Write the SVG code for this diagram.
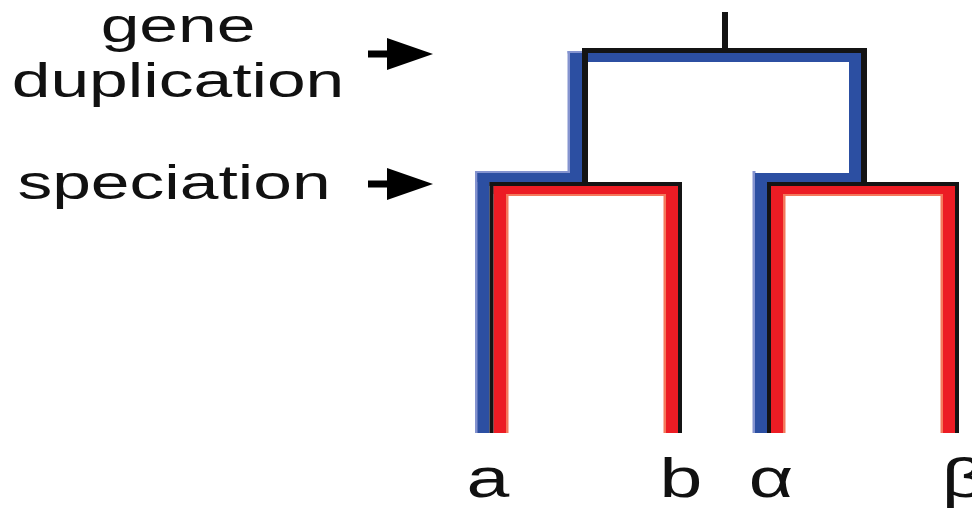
<svg xmlns="http://www.w3.org/2000/svg" width="972" height="508" viewBox="0 0 972 508">
  <style>
    .lbl { font-family: "Liberation Sans", Arial, sans-serif; fill: #111; text-anchor: middle; }
    .side { font-size: 49px; }
    .leaf { font-size: 55px; }
    .blue { fill: #2c4fa2; }
    .blue-edge { fill: #8493cf; }
    .red { fill: #ec1c24; }
    .red-edge { fill: #f4795c; }
    .blk { fill: #141414; }
    .arrow { fill: #000; }
  </style>
  <rect width="972" height="508" fill="#ffffff"/>

  <g id="event-labels">
    <g id="label-gene-duplication">
      <text class="lbl side" transform="translate(178,42) scale(1.42,1)">gene</text>
      <text class="lbl side" transform="translate(178,97) scale(1.42,1)">duplication</text>
    </g>
    <g id="label-speciation">
      <text class="lbl side" transform="translate(174,199) scale(1.42,1)">speciation</text>
    </g>
  </g>

  <g id="connectors">
    <g id="arrow-duplication">
      <rect class="arrow" x="368" y="50.5" width="22" height="7"/>
      <polygon class="arrow" points="387,38 433,54 387,70"/>
    </g>
    <g id="arrow-speciation">
      <rect class="arrow" x="368" y="180.5" width="22" height="7"/>
      <polygon class="arrow" points="387,168 433,184 387,200"/>
    </g>

    <g id="gene-tree-blue">
      <rect class="blue-edge" x="475" y="171" width="3" height="262"/>
      <rect class="blue-edge" x="475" y="171" width="97" height="2.5"/>
      <rect class="blue-edge" x="567.5" y="51" width="3" height="122"/>
      <rect class="blue-edge" x="567.5" y="51" width="15" height="2.5"/>
      <rect class="blue-edge" x="752.5" y="171" width="3" height="262"/>
      <rect class="blue" x="477.5" y="173" width="12" height="260"/>
      <rect class="blue" x="477.5" y="173" width="104.5" height="9"/>
      <rect class="blue" x="570" y="53" width="12" height="129"/>
      <rect class="blue" x="570" y="53" width="291" height="9"/>
      <rect class="blue" x="849" y="53" width="12" height="129"/>
      <rect class="blue" x="755" y="173" width="106" height="9"/>
      <rect class="blue" x="755" y="173" width="12" height="260"/>
    </g>
    <g id="gene-tree-red">
      <rect class="red" x="493.5" y="186" width="12.5" height="247"/>
      <rect class="red" x="493.5" y="186" width="184.5" height="8"/>
      <rect class="red" x="666" y="186" width="12" height="247"/>
      <rect class="red-edge" x="506" y="194" width="2.5" height="239"/>
      <rect class="red-edge" x="506" y="194" width="160" height="2"/>
      <rect class="red-edge" x="663.5" y="194" width="2.5" height="239"/>
      <rect class="red" x="771" y="186" width="12" height="247"/>
      <rect class="red" x="771" y="186" width="184" height="8"/>
      <rect class="red" x="943" y="186" width="12" height="247"/>
      <rect class="red-edge" x="783" y="194" width="2.5" height="239"/>
      <rect class="red-edge" x="783" y="194" width="160" height="2"/>
      <rect class="red-edge" x="940.5" y="194" width="2.5" height="239"/>
    </g>
    <g id="species-tree-black">
      <rect class="blk" x="722" y="12" width="6" height="38"/>
      <rect class="blk" x="582" y="48" width="285" height="5"/>
      <rect class="blk" x="582" y="48" width="6" height="138"/>
      <rect class="blk" x="861" y="48" width="6" height="138"/>
      <rect class="blk" x="489.5" y="182" width="192.5" height="4"/>
      <rect class="blk" x="489.5" y="182" width="4" height="251"/>
      <rect class="blk" x="678" y="182" width="4" height="251"/>
      <rect class="blk" x="767" y="182" width="192" height="4"/>
      <rect class="blk" x="767" y="182" width="4" height="251"/>
      <rect class="blk" x="955" y="182" width="4" height="251"/>
    </g>
  </g>

  <g id="leaf-labels">
    <g id="leaf-a"><text class="lbl leaf" transform="translate(488,497) scale(1.4,1)">a</text></g>
    <g id="leaf-b"><text class="lbl leaf" transform="translate(681,497) scale(1.4,1)">b</text></g>
    <g id="leaf-alpha"><text class="lbl leaf" transform="translate(771,497) scale(1.4,1)">α</text></g>
    <g id="leaf-beta"><text class="lbl leaf" transform="translate(964,497) scale(1.4,1)">β</text></g>
  </g>
</svg>
